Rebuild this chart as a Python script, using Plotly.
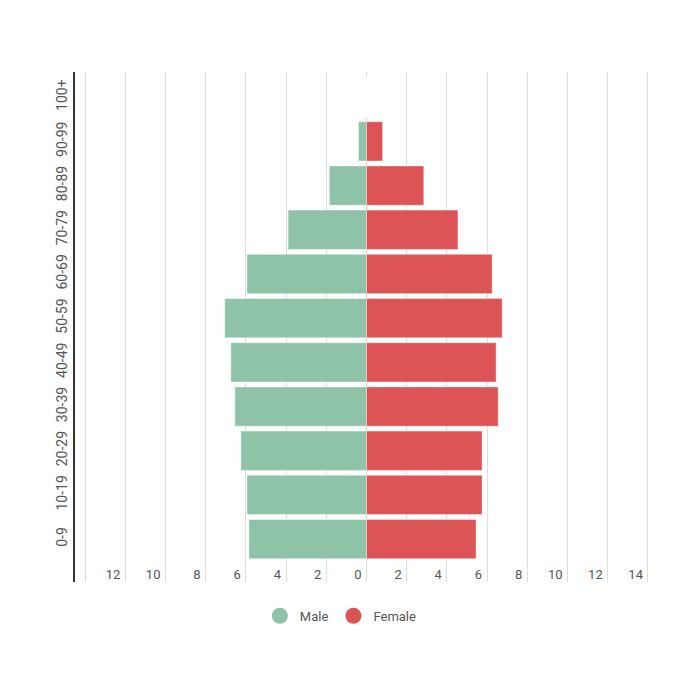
import plotly.graph_objects as go

age_groups = ["0-9", "10-19", "20-29", "30-39", "40-49", "50-59",
              "60-69", "70-79", "80-89", "90-99", "100+"]
male = [5.85, 5.95, 6.25, 6.55, 6.75, 7.05, 5.95, 3.9, 1.85, 0.4, 0]
female = [5.45, 5.75, 5.75, 6.55, 6.45, 6.75, 6.25, 4.55, 2.85, 0.8, 0]

x_ticks = list(range(-14, 15, 2))
x_labels = ["" if v == -14 else str(abs(v)) for v in x_ticks]

green = "#8ec3a7"
red = "#dd5456"

fig = go.Figure()

# male bars go to the left
fig.add_trace(go.Bar(
    y=age_groups, x=[-v for v in male], orientation="h", name="Male",
    marker=dict(color=green, line=dict(color="rgba(255,255,255,0.45)", width=1)),
    showlegend=False,
))
fig.add_trace(go.Bar(
    y=age_groups, x=female, orientation="h", name="Female",
    marker=dict(color=red, line=dict(color="rgba(255,255,255,0.45)", width=1)),
    showlegend=False,
))

# legend entries with round markers
for name, col in [("Male", green), ("Female", red)]:
    fig.add_trace(go.Scatter(
        x=[None], y=[None], mode="markers", name=name,
        marker=dict(color=col, size=17, symbol="circle"),
    ))

# page has an 8px body margin, so margins are 8px smaller than the picture
fig.update_layout(
    width=700, height=700,
    barmode="relative", bargap=0.11,
    plot_bgcolor="white", paper_bgcolor="white",
    margin=dict(l=67, r=50, t=64, b=126),
    font=dict(family="Roboto", size=12, color="#555555"),
    legend=dict(orientation="h", x=0.456, xanchor="center", y=-0.037, yanchor="top",
                font=dict(size=13, color="#555555"), itemsizing="trace"),
)

fig.update_xaxes(
    range=[-14.5, 14.5], tickvals=x_ticks, ticktext=x_labels,
    ticklabelposition="inside left", ticklabelshift=-5, ticklabelstandoff=-6,
    showgrid=True, gridcolor="#dddddd",
    gridwidth=1, zeroline=False, showline=False, ticks="",
    tickfont=dict(size=13, color="#555555"), automargin=False,
)
fig.update_yaxes(
    range=[-0.97, 10.57], tickangle=-90, showgrid=False, zeroline=False,
    showline=True, linecolor="#333333", linewidth=2, ticks="", ticklen=0,
    tickfont=dict(size=14, color="#555555"), automargin=False,
)

fig.write_html("out.html")
